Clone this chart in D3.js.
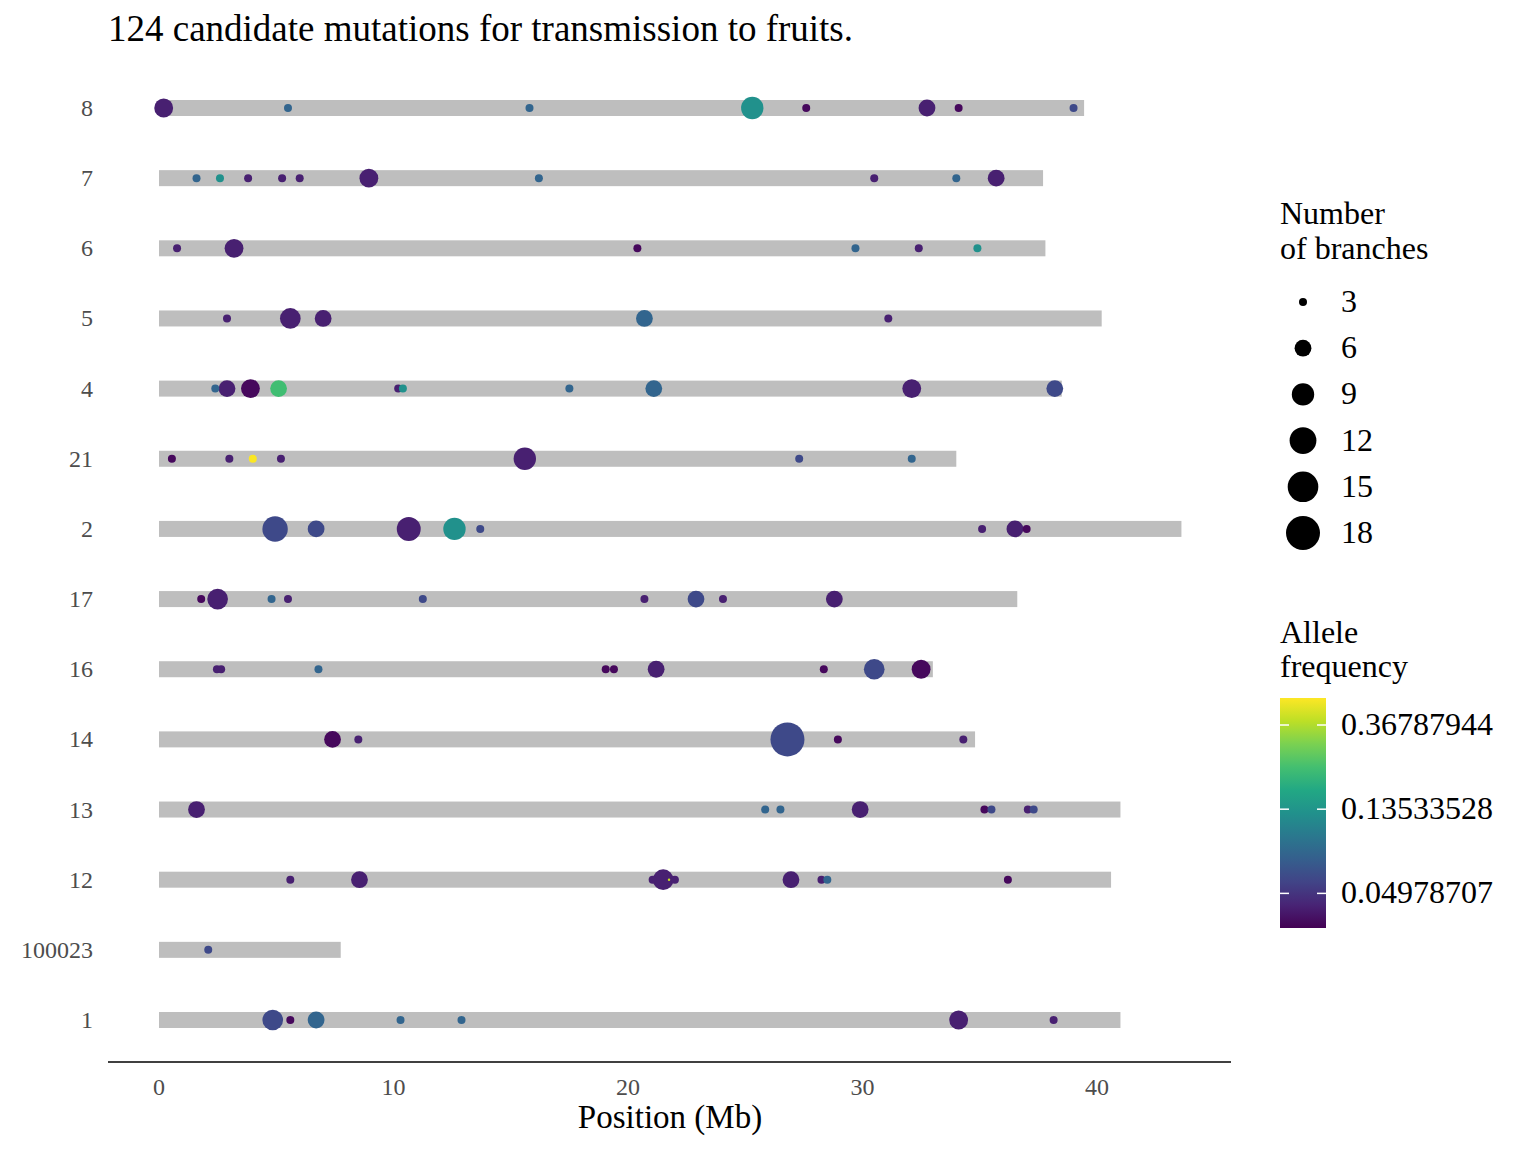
<!DOCTYPE html>
<html><head><meta charset="utf-8">
<script src="https://cdn.jsdelivr.net/npm/d3@7"></script>
<style>body{margin:0;background:#fff}text{font-family:"Liberation Serif",serif}</style>
</head><body>
<svg id="chart" width="1536" height="1152"></svg>
<script>
// chromosomes, bottom to top, and lengths in Mb
var chroms = ["1","100023","12","13","14","16","17","2","21","4","5","6","7","8"];
var lengths = [41.0,7.75,40.6,41.0,34.8,33.0,36.6,43.6,34.0,38.5,40.2,37.8,37.7,39.45];

// mutations: chromosome, position (Mb), number of branches, allele frequency
var D=0.035,P=0.042,I=0.06,B=0.08,T=0.13,G=0.22,Y=0.5;
var mChrom = [
 "8","8","8","8","8","8","8","8",
 "7","7","7","7","7","7","7","7","7","7",
 "6","6","6","6","6","6",
 "5","5","5","5","5",
 "4","4","4","4","4","4","4","4","4","4",
 "21","21","21","21","21","21","21",
 "2","2","2","2","2","2","2","2",
 "17","17","17","17","17","17","17","17","17",
 "16","16","16","16","16","16","16","16","16",
 "14","14","14","14","14",
 "13","13","13","13","13","13","13","13",
 "12","12","12","12","12","12","12","12","12","12",
 "100023",
 "1","1","1","1","1","1","1"];
var mPos = [
 0.2,5.5,15.8,25.3,27.6,32.75,34.1,39.0,
 1.6,2.6,3.8,5.25,6.0,8.95,16.2,30.5,34.0,35.7,
 0.77,3.2,20.4,29.7,32.4,34.9,
 2.9,5.6,7.0,20.7,31.1,
 2.4,2.9,3.9,5.1,10.2,10.4,17.5,21.1,32.1,38.2,
 0.55,3.0,4.0,5.2,15.6,27.3,32.1,
 4.95,6.7,10.65,12.6,13.7,35.1,36.5,37.0,
 1.8,2.5,4.8,5.5,11.25,20.7,22.9,24.05,28.8,
 2.47,2.65,6.8,19.05,19.4,21.2,28.35,30.5,32.5,
 7.4,8.5,26.8,28.95,34.3,
 1.6,25.85,26.5,29.9,35.2,35.5,37.05,37.3,
 5.6,8.55,21.05,21.5,21.75,22.0,26.95,28.25,28.5,36.2,
 2.1,
 4.85,5.6,6.7,10.3,12.9,34.1,38.15];
var mBranches = [
 7,3,3,9,3,6,3,3,
 3,3,3,3,3,7,3,3,3,6,
 3,7,3,3,3,3,
 3,8,6,6,3,
 3,6,7,6,3,3,3,6,7,6,
 3,3,3,3,9,3,3,
 11,6,10,9,3,3,6,3,
 3,8,3,3,3,3,6,3,6,
 3,3,3,3,3,6,3,8,7,
 6,3,18,3,3,
 6,3,3,6,3,3,3,3,
 3,6,3,8,2,3,6,3,3,3,
 3,
 8,3,6,3,3,7,3];
var mFreq = [
 P,B,B,T,D,P,D,I,
 B,T,P,P,P,P,B,P,B,P,
 P,P,D,B,P,T,
 P,P,P,B,P,
 B,P,D,G,P,T,B,B,P,I,
 D,P,Y,P,P,I,B,
 I,I,P,T,I,P,P,D,
 D,P,B,P,I,P,I,P,P,
 P,P,B,D,D,P,D,I,D,
 D,P,I,D,P,
 P,B,B,P,D,I,P,I,
 P,P,P,P,0.4,P,P,P,B,D,
 I,
 I,D,B,B,B,P,P];

var sizeTicks = [3,6,9,12,15,18];
var colorTicks = [0.36787944,0.13533528,0.04978707];

var svg = d3.select("#chart");
var x = d3.scaleLinear().domain([0,40]).range([159,1097]);
var y = d3.scalePoint().domain(chroms).range([1020,108]);
// area grows linearly with branch count
var area = d3.scaleLinear().domain([3,18]).range([16,289]);
var r = n => Math.sqrt(Math.max(1.5, area(n)));
var color = d3.scaleSequential(d3.interpolateViridis).domain([Math.log(0.033),Math.log(0.507)]);

// title
svg.append("text").attr("x",108).attr("y",41).attr("font-size",37).text("124 candidate mutations for transmission to fruits.");

// chromosome bars
svg.selectAll("rect.chr").data(chroms).enter().append("rect")
  .attr("x",x(0)).attr("y",d=>y(d)-8)
  .attr("width",(d,i)=>x(lengths[i])-x(0)).attr("height",16).attr("fill","#bebebe");

// points (larger first so small ones stay visible)
var idx = d3.range(mPos.length).sort((a,b)=>mBranches[b]-mBranches[a]);
svg.selectAll("circle.m").data(idx).enter().append("circle")
  .attr("cx",i=>x(mPos[i])).attr("cy",i=>y(mChrom[i]))
  .attr("r",i=>r(mBranches[i])).attr("fill",i=>color(Math.log(mFreq[i])));

// y labels
svg.selectAll("text.yl").data(chroms).enter().append("text")
  .attr("x",93).attr("y",d=>y(d)+8).attr("text-anchor","end")
  .attr("font-size",24).attr("fill","#4d4d4d").text(d=>d);

// x axis
svg.append("line").attr("x1",108).attr("x2",1231).attr("y1",1062).attr("y2",1062).attr("stroke","#000").attr("stroke-width",1.5);
svg.selectAll("text.xl").data([0,10,20,30,40]).enter().append("text")
  .attr("x",d=>x(d)).attr("y",1095).attr("text-anchor","middle")
  .attr("font-size",24).attr("fill","#4d4d4d").text(d=>d);
svg.append("text").attr("x",670).attr("y",1128).attr("text-anchor","middle").attr("font-size",33).text("Position (Mb)");

// size legend
svg.append("text").attr("x",1280).attr("y",224).attr("font-size",32).text("Number");
svg.append("text").attr("x",1280).attr("y",259).attr("font-size",32).text("of branches");
sizeTicks.forEach(function(s,i){
  var yy = 302+i*46.2;
  svg.append("circle").attr("cx",1303).attr("cy",yy).attr("r",r(s)).attr("fill","#000");
  svg.append("text").attr("x",1341).attr("y",yy+10).attr("font-size",32).text(s);
});

// colour legend
svg.append("text").attr("x",1280).attr("y",643).attr("font-size",32).text("Allele");
svg.append("text").attr("x",1280).attr("y",677).attr("font-size",32).text("frequency");
var defs = svg.append("defs");
var grad = defs.append("linearGradient").attr("id","vg").attr("x1",0).attr("x2",0).attr("y1",1).attr("y2",0);
d3.range(0,1.01,0.1).forEach(function(t){
  grad.append("stop").attr("offset",t).attr("stop-color",d3.interpolateViridis(t));
});
var cy = d3.scaleLinear().domain(color.domain()).range([928,698]);
svg.append("rect").attr("x",1280).attr("y",698).attr("width",46).attr("height",230).attr("fill","url(#vg)");
colorTicks.forEach(function(v){
  var yy = cy(Math.log(v));
  svg.append("line").attr("x1",1280).attr("x2",1289).attr("y1",yy).attr("y2",yy).attr("stroke","#fff").attr("stroke-width",1.5);
  svg.append("line").attr("x1",1317).attr("x2",1326).attr("y1",yy).attr("y2",yy).attr("stroke","#fff").attr("stroke-width",1.5);
  svg.append("text").attr("x",1341).attr("y",yy+10).attr("font-size",32).text(v.toFixed(8));
});
</script>
</body></html>
